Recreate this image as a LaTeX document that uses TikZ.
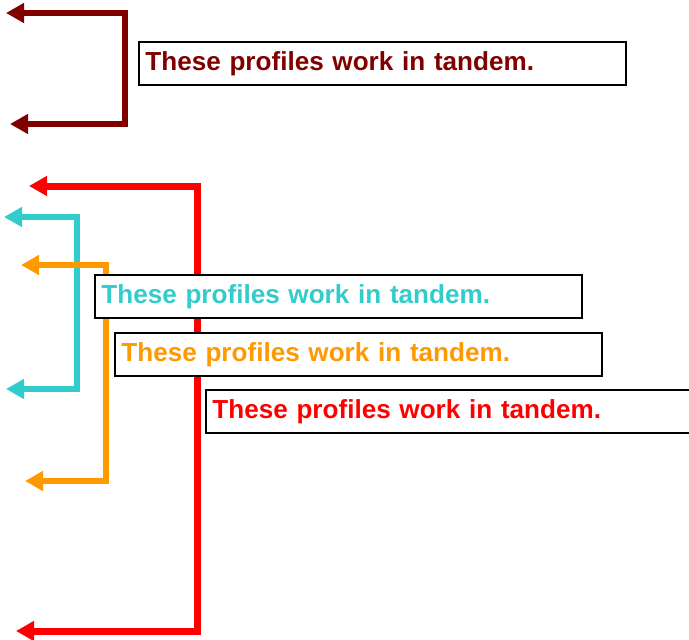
\documentclass[tikz,border=0pt]{standalone}
\usepackage{fontspec}
\setmainfont{Liberation Sans}
\usetikzlibrary{arrows.meta}
\definecolor{cdark}{HTML}{800000}
\definecolor{ccyan}{HTML}{33CCCC}
\definecolor{corange}{HTML}{FF9900}
\definecolor{cred}{HTML}{FF0000}
\tikzset{
  bracket/.style={line width=6pt, line join=miter,
    {Triangle[length=18pt,width=19pt]}-{Triangle[length=18pt,width=19pt]}},
  label/.style={draw=black, line width=1.8pt, fill=white, anchor=north west,
    minimum height=43pt, text width=474pt, inner sep=6.5pt, align=left,
    font=\bfseries\fontsize{26.1}{30}\selectfont}
}
\begin{document}
\begin{tikzpicture}[x=1pt,y=-1pt]
\useasboundingbox (0,0) rectangle (689,640);
% dark red bracket
\coordinate (d1) at (6,13);
\coordinate (d2) at (125,124);
\coordinate (d3) at (10,124);
\draw[bracket, cdark] (d1) -| (d2) -- (d3);
% red bracket
\coordinate (r1) at (29,186);
\coordinate (r2) at (197,631);
\coordinate (r3) at (16,631);
\draw[bracket, cred, line width=7pt] (r1) -| (r2) -- (r3);
% cyan bracket
\coordinate (c1) at (4,217);
\coordinate (c2) at (76.5,389);
\coordinate (c3) at (6,389);
\draw[bracket, ccyan] (c1) -| (c2) -- (c3);
% orange bracket
\coordinate (o1) at (21,265);
\coordinate (o2) at (106,481);
\coordinate (o3) at (25,481);
\draw[bracket, corange, line width=5.5pt] (o1) -| (o2) -- (o3);
% boxes
\node[label, text=cdark] (bd) at (138,41) {These profiles work in tandem.};
\node[label, text=cred] (br) at (205,389) {These profiles work in tandem.};
\node[label, text=corange] (bo) at (114,332) {These profiles work in tandem.};
\node[label, text=ccyan] (bc) at (94,274) {These profiles work in tandem.};
\end{tikzpicture}
\end{document}
